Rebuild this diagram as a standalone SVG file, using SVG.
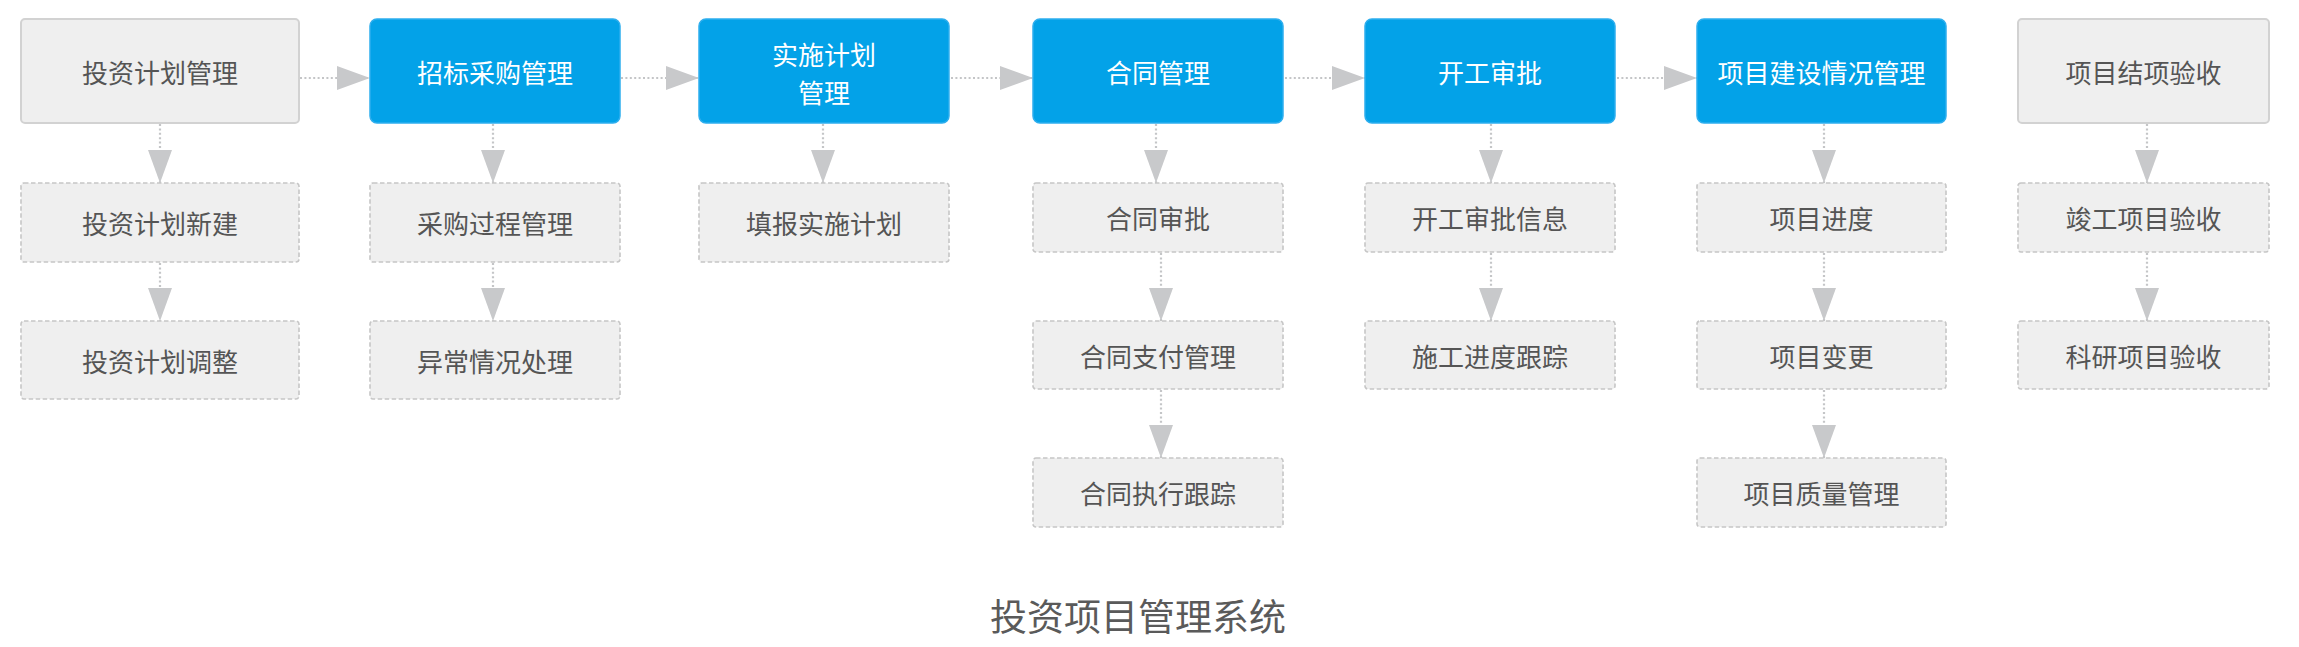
<svg xmlns="http://www.w3.org/2000/svg" width="2299" height="647" viewBox="0 0 2299 647">
<style>
  .main-gray { fill: #efefef; stroke: #d2d2d2; stroke-width: 2; }
  .main-blue { fill: #03a2e8; stroke: #2eaeee; stroke-width: 1.5; }
  .sub { fill: #efefef; stroke: #c6c6c6; stroke-width: 1.6; stroke-dasharray: 4.5 2.5; }
  .t { font-family: "Noto Sans CJK SC", "Noto Sans", sans-serif; font-size: 26px; text-anchor: middle; dominant-baseline: central; fill: #555555; }
  .tw { fill: #ffffff; }
  .title { font-family: "Noto Sans CJK SC", "Noto Sans", sans-serif; font-size: 37px; text-anchor: middle; dominant-baseline: central; fill: #5a5a5a; }
  .conn { stroke: #c4c5c7; stroke-width: 2.2; stroke-dasharray: 2 2.4; fill: none; marker-end: url(#head); }
</style>
<defs>
  <marker id="head" markerUnits="userSpaceOnUse" markerWidth="34" markerHeight="26" refX="33" refY="12" orient="auto">
    <path d="M0,0 L33,12 L0,24 Z" fill="#c8c9cb"/>
  </marker>
</defs>
<rect width="2299" height="647" fill="#ffffff"/>

<g id="connectors">
  <line class="conn" x1="300" y1="78" x2="370" y2="78"/>
  <line class="conn" x1="621" y1="78" x2="699" y2="78"/>
  <line class="conn" x1="951" y1="78" x2="1033" y2="78"/>
  <line class="conn" x1="1285" y1="78" x2="1365" y2="78"/>
  <line class="conn" x1="1617" y1="78" x2="1697" y2="78"/>

  <line class="conn" x1="160" y1="124" x2="160" y2="183"/>
  <line class="conn" x1="160" y1="263" x2="160" y2="321"/>
  <line class="conn" x1="493" y1="124" x2="493" y2="183"/>
  <line class="conn" x1="493" y1="263" x2="493" y2="321"/>
  <line class="conn" x1="823" y1="124" x2="823" y2="183"/>
  <line class="conn" x1="1156" y1="124" x2="1156" y2="183"/>
  <line class="conn" x1="1161" y1="253" x2="1161" y2="321"/>
  <line class="conn" x1="1161" y1="390" x2="1161" y2="458"/>
  <line class="conn" x1="1491" y1="124" x2="1491" y2="183"/>
  <line class="conn" x1="1491" y1="253" x2="1491" y2="321"/>
  <line class="conn" x1="1824" y1="124" x2="1824" y2="183"/>
  <line class="conn" x1="1824" y1="253" x2="1824" y2="321"/>
  <line class="conn" x1="1824" y1="390" x2="1824" y2="458"/>
  <line class="conn" x1="2147" y1="124" x2="2147" y2="183"/>
  <line class="conn" x1="2147" y1="253" x2="2147" y2="321"/>
</g>

<g id="n-touzi-jihua-guanli">
  <rect class="main-gray" x="21" y="19" width="278" height="104" rx="4"/>
  <text class="t" x="160" y="71">投资计划管理</text>
</g>
<g id="n-touzi-jihua-xinjian">
  <rect class="sub" x="21" y="183" width="278" height="79" rx="3"/>
  <text class="t" x="160" y="222.5">投资计划新建</text>
</g>
<g id="n-touzi-jihua-tiaozheng">
  <rect class="sub" x="21" y="321" width="278" height="78" rx="3"/>
  <text class="t" x="160" y="360">投资计划调整</text>
</g>

<g id="n-zhaobiao">
  <rect class="main-blue" x="370" y="19" width="250" height="104" rx="7"/>
  <text class="t tw" x="495" y="71">招标采购管理</text>
</g>
<g id="n-caigou-guocheng">
  <rect class="sub" x="370" y="183" width="250" height="79" rx="3"/>
  <text class="t" x="495" y="222.5">采购过程管理</text>
</g>
<g id="n-yichang">
  <rect class="sub" x="370" y="321" width="250" height="78" rx="3"/>
  <text class="t" x="495" y="360">异常情况处理</text>
</g>

<g id="n-shishi-jihua">
  <rect class="main-blue" x="699" y="19" width="250" height="104" rx="7"/>
  <text class="t tw" x="824" y="52.5"><tspan x="824" y="52.5">实施计划</tspan><tspan x="824" y="90.5">管理</tspan></text>
</g>
<g id="n-tianbao">
  <rect class="sub" x="699" y="183" width="250" height="79" rx="3"/>
  <text class="t" x="824" y="222.5">填报实施计划</text>
</g>

<g id="n-hetong">
  <rect class="main-blue" x="1033" y="19" width="250" height="104" rx="7"/>
  <text class="t tw" x="1158" y="71">合同管理</text>
</g>
<g id="n-hetong-shenpi">
  <rect class="sub" x="1033" y="183" width="250" height="69" rx="3"/>
  <text class="t" x="1158" y="217.5">合同审批</text>
</g>
<g id="n-hetong-zhifu">
  <rect class="sub" x="1033" y="321" width="250" height="68" rx="3"/>
  <text class="t" x="1158" y="355">合同支付管理</text>
</g>
<g id="n-hetong-zhixing">
  <rect class="sub" x="1033" y="458" width="250" height="69" rx="3"/>
  <text class="t" x="1158" y="492.5">合同执行跟踪</text>
</g>

<g id="n-kaigong">
  <rect class="main-blue" x="1365" y="19" width="250" height="104" rx="7"/>
  <text class="t tw" x="1490" y="71">开工审批</text>
</g>
<g id="n-kaigong-xinxi">
  <rect class="sub" x="1365" y="183" width="250" height="69" rx="3"/>
  <text class="t" x="1490" y="217.5">开工审批信息</text>
</g>
<g id="n-shigong-jindu">
  <rect class="sub" x="1365" y="321" width="250" height="68" rx="3"/>
  <text class="t" x="1490" y="355">施工进度跟踪</text>
</g>

<g id="n-jianshe">
  <rect class="main-blue" x="1697" y="19" width="249" height="104" rx="7"/>
  <text class="t tw" x="1821.5" y="71">项目建设情况管理</text>
</g>
<g id="n-xiangmu-jindu">
  <rect class="sub" x="1697" y="183" width="249" height="69" rx="3"/>
  <text class="t" x="1821.5" y="217.5">项目进度</text>
</g>
<g id="n-xiangmu-biangeng">
  <rect class="sub" x="1697" y="321" width="249" height="68" rx="3"/>
  <text class="t" x="1821.5" y="355">项目变更</text>
</g>
<g id="n-xiangmu-zhiliang">
  <rect class="sub" x="1697" y="458" width="249" height="69" rx="3"/>
  <text class="t" x="1821.5" y="492.5">项目质量管理</text>
</g>

<g id="n-jiexiang">
  <rect class="main-gray" x="2018" y="19" width="251" height="104" rx="4"/>
  <text class="t" x="2143.5" y="71">项目结项验收</text>
</g>
<g id="n-jungong">
  <rect class="sub" x="2018" y="183" width="251" height="69" rx="3"/>
  <text class="t" x="2143.5" y="217.5">竣工项目验收</text>
</g>
<g id="n-keyan">
  <rect class="sub" x="2018" y="321" width="251" height="68" rx="3"/>
  <text class="t" x="2143.5" y="355">科研项目验收</text>
</g>

<g id="title">
  <text class="title" x="1138" y="615">投资项目管理系统</text>
</g>
</svg>
